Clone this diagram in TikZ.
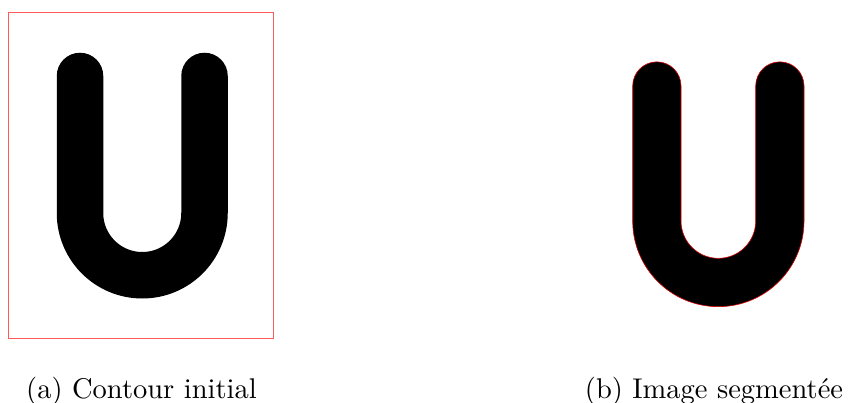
\documentclass[tikz,border=0pt]{standalone}
\begin{document}
\begin{tikzpicture}[x=1pt,y=1pt,
  frame/.style={draw=red!65,line width=0.7pt},
  letterstroke/.style={line width=46.5pt,line cap=round,black},
  segshape/.style={fill=black,draw=red!85!black,line width=0.6pt},
  caption/.style={anchor=base,inner sep=0pt,font=\fontsize{10}{12}\selectfont,scale=2.85,transform shape}]
\useasboundingbox (0,0) rectangle (848,403);
% (a) initial contour
\draw[frame] (8,391) rectangle (273,65);
\draw[letterstroke] (80,327) -- (80,190) arc[start angle=180,end angle=360,radius=62.25] -- (204.5,327);
% (b) segmented image
\draw[segshape] (632.7,317) -- (632.7,182) arc[start angle=180,end angle=360,radius=85.65]
  -- (804,317) arc[start angle=0,end angle=180,radius=24.15]
  -- (755.7,182) arc[start angle=360,end angle=180,radius=37.35]
  -- (681,317) arc[start angle=0,end angle=180,radius=24.15] -- cycle;
% captions
\node[caption] (capa) at (141.5,4) {(a) Contour initial};
\node[caption] (capb) at (714,4) {(b) Image segmentée};
\end{tikzpicture}
\end{document}
